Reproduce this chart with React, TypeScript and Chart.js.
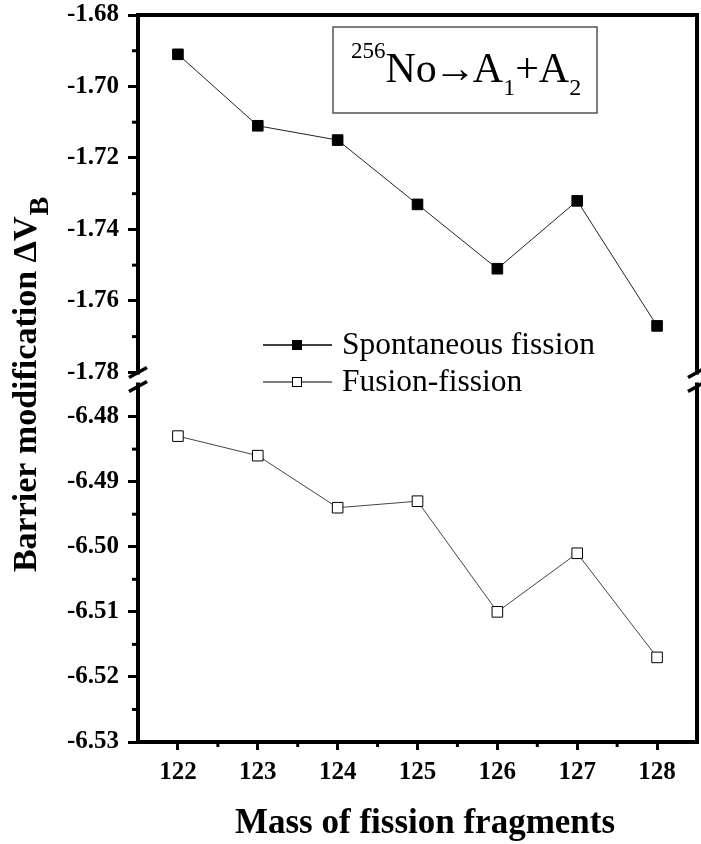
import { useEffect, useRef } from 'react';
import { Chart, registerables } from 'chart.js';

Chart.register(...registerables);

// Fragment masses on the x axis
const masses = [122, 123, 124, 125, 126, 127, 128];
// Barrier modification for spontaneous fission (upper axis segment)
const spontaneous = [-1.691, -1.711, -1.715, -1.733, -1.751, -1.732, -1.767];
// Barrier modification for fusion-fission (lower axis segment)
const fusionFission = [-6.483, -6.486, -6.494, -6.493, -6.510, -6.501, -6.517];

const upperTicks = [-1.78, -1.76, -1.74, -1.72, -1.70, -1.68];
const upperMinor = [-1.77, -1.75, -1.73, -1.71, -1.69];
const lowerTicks = [-6.53, -6.52, -6.51, -6.50, -6.49, -6.48];
const lowerMinor = [-6.525, -6.515, -6.505, -6.495, -6.485];
const xMinor = [122.5, 123.5, 124.5, 125.5, 126.5, 127.5];

const seriesLabels = ['Spontaneous fission', 'Fusion-fission'];
const xTitle = 'Mass of fission fragments';
const yTitle = 'Barrier modification \u0394V';
const yTitleSub = 'B';

const SERIF = '"Liberation Serif", "Times New Roman", serif';
const tickFont = { family: SERIF, size: 25, weight: 'bold' as const };

const line = (ctx: CanvasRenderingContext2D, x1: number, y1: number, x2: number, y2: number) => {
  ctx.beginPath();
  ctx.moveTo(x1, y1);
  ctx.lineTo(x2, y2);
  ctx.stroke();
};

const decorations = {
  id: 'decorations',
  afterDraw(chart: any) {
    const ctx: CanvasRenderingContext2D = chart.ctx;
    const { left, right, top, bottom } = chart.chartArea;
    const { x, yUp, yLow } = chart.scales;
    ctx.save();

    // frame: top and right edges
    ctx.strokeStyle = '#000';
    ctx.lineWidth = 4;
    ctx.lineCap = 'butt';
    line(ctx, left - 2, top, right + 2, top);
    line(ctx, right, top, right, bottom + 2);

    // minor ticks
    ctx.lineWidth = 3;
    upperMinor.forEach((v) => {
      const py = yUp.getPixelForValue(v);
      line(ctx, left - 6, py, left, py);
    });
    lowerMinor.forEach((v) => {
      const py = yLow.getPixelForValue(v);
      line(ctx, left - 6, py, left, py);
    });
    xMinor.forEach((v) => {
      const px = x.getPixelForValue(v);
      line(ctx, px, bottom, px, bottom + 5);
    });

    // axis break marks on both sides
    const by = yUp.bottom;
    [left, right].forEach((ax) => {
      ctx.fillStyle = '#fff';
      ctx.fillRect(ax - 3, by - 5, 6, 8);
      ctx.strokeStyle = '#000';
      ctx.lineWidth = 3.5;
      line(ctx, ax - 9, by - 2, ax + 9, by - 12);
      line(ctx, ax - 9, by + 12, ax + 9, by + 2);
    });

    // reaction label box
    ctx.strokeStyle = '#555';
    ctx.lineWidth = 1.5;
    ctx.strokeRect(333, 27, 264, 86);
    ctx.fillStyle = '#000';
    ctx.textBaseline = 'alphabetic';
    ctx.textAlign = 'left';
    let tx = 351;
    const part = (t: string, size: number, baseline: number, dx = 0) => {
      ctx.font = `${size}px ${SERIF}`;
      tx += dx;
      ctx.fillText(t, tx, baseline);
      tx += ctx.measureText(t).width;
    };
    part('256', 23, 58);
    part('No', 42, 82);
    part('\u2192', 42, 82, -3);
    part('A', 42, 82, -3);
    part('1', 24, 95);
    part('+A', 42, 82);
    part('2', 24, 95);

    // legend
    const legendRows = [
      { y: 345, fill: '#000', stroke: '#000' },
      { y: 382, fill: '#fff', stroke: '#555' },
    ];
    legendRows.forEach((row, i) => {
      ctx.strokeStyle = row.stroke;
      ctx.lineWidth = 1.5;
      line(ctx, 263, row.y, 332, row.y);
      ctx.fillStyle = row.fill;
      ctx.fillRect(292, row.y - 5, 10, 10);
      ctx.strokeStyle = '#000';
      ctx.lineWidth = 1;
      ctx.strokeRect(292.5, row.y - 4.5, 9, 9);
      ctx.fillStyle = '#000';
      ctx.font = `31.5px ${SERIF}`;
      ctx.textBaseline = 'middle';
      ctx.fillText(seriesLabels[i], 342, row.y + 1);
    });

    // x axis title
    ctx.textBaseline = 'alphabetic';
    ctx.textAlign = 'center';
    ctx.font = `bold 35px ${SERIF}`;
    ctx.fillText(xTitle, 425, 833);

    // y axis title with subscript
    ctx.translate(36, 385);
    ctx.rotate(-Math.PI / 2);
    ctx.textAlign = 'left';
    ctx.font = `bold 34px ${SERIF}`;
    const wMain = ctx.measureText(yTitle).width;
    ctx.font = `bold 28px ${SERIF}`;
    const wSub = ctx.measureText(yTitleSub).width;
    const start = -(wMain + wSub) / 2;
    ctx.font = `bold 34px ${SERIF}`;
    ctx.fillText(yTitle, start, 0);
    ctx.font = `bold 28px ${SERIF}`;
    ctx.fillText(yTitleSub, start + wMain + 1, 12);

    ctx.restore();
  },
};

export default function App() {
  const canvasRef = useRef<HTMLCanvasElement | null>(null);

  useEffect(() => {
    if (!canvasRef.current) return;
    const yCommon = {
      type: 'linear' as const,
      position: 'left' as const,
      stack: 'barrier',
      border: { display: true, color: '#000', width: 4 },
      grid: { drawOnChartArea: false, tickLength: 10, tickWidth: 3, tickColor: '#000' },
      ticks: {
        font: tickFont,
        color: '#000',
        padding: 9,
        callback: (v: any) => Number(v).toFixed(2),
      },
      afterFit: (s: any) => {
        s.width = 138;
        s.paddingTop = 0;
        s.paddingBottom = 0;
      },
    };
    const chart = new Chart(canvasRef.current, {
      type: 'line',
      data: {
        datasets: [
          {
            label: seriesLabels[0],
            data: masses.map((m, i) => ({ x: m, y: spontaneous[i] })),
            yAxisID: 'yUp',
            borderColor: '#222',
            borderWidth: 1,
            pointStyle: 'rect',
            pointRadius: 7.5,
            pointBackgroundColor: '#000',
            pointBorderColor: '#000',
            pointBorderWidth: 1,
          },
          {
            label: seriesLabels[1],
            data: masses.map((m, i) => ({ x: m, y: fusionFission[i] })),
            yAxisID: 'yLow',
            borderColor: '#444',
            borderWidth: 1,
            pointStyle: 'rect',
            pointRadius: 7.5,
            pointBackgroundColor: '#fff',
            pointBorderColor: '#000',
            pointBorderWidth: 1,
          },
        ],
      },
      options: {
        animation: false,
        responsive: true,
        maintainAspectRatio: false,
        layout: { autoPadding: false, padding: { left: 0, top: 15, right: 4, bottom: 0 } },
        plugins: { legend: { display: false }, tooltip: { enabled: false } },
        scales: {
          x: {
            type: 'linear',
            min: 121.5,
            max: 128.5,
            border: { display: true, color: '#000', width: 4 },
            grid: { drawOnChartArea: false, tickLength: 8, tickWidth: 3, tickColor: '#000' },
            afterBuildTicks: (s: any) => {
              s.ticks = masses.map((v) => ({ value: v }));
            },
            ticks: {
              font: tickFont,
              color: '#000',
              padding: 8,
              callback: (v: any) => String(v),
            },
            afterFit: (s: any) => {
              s.height = 102;
              s.paddingLeft = 0;
              s.paddingRight = 0;
            },
          },
          yLow: {
            ...yCommon,
            stackWeight: 362,
            min: -6.53,
            max: -6.4743,
            afterBuildTicks: (s: any) => {
              s.ticks = lowerTicks.map((v) => ({ value: v }));
            },
          },
          yUp: {
            ...yCommon,
            stackWeight: 364,
            min: -1.782,
            max: -1.68,
            afterBuildTicks: (s: any) => {
              s.ticks = upperTicks.map((v) => ({ value: v }));
            },
          },
        } as any,
      },
      plugins: [decorations],
    });
    return () => chart.destroy();
  }, []);

  return (
    <div style={{ position: 'fixed', left: 0, top: 0, width: 701, height: 844, background: '#fff' }}>
      <canvas ref={canvasRef} />
    </div>
  );
}
